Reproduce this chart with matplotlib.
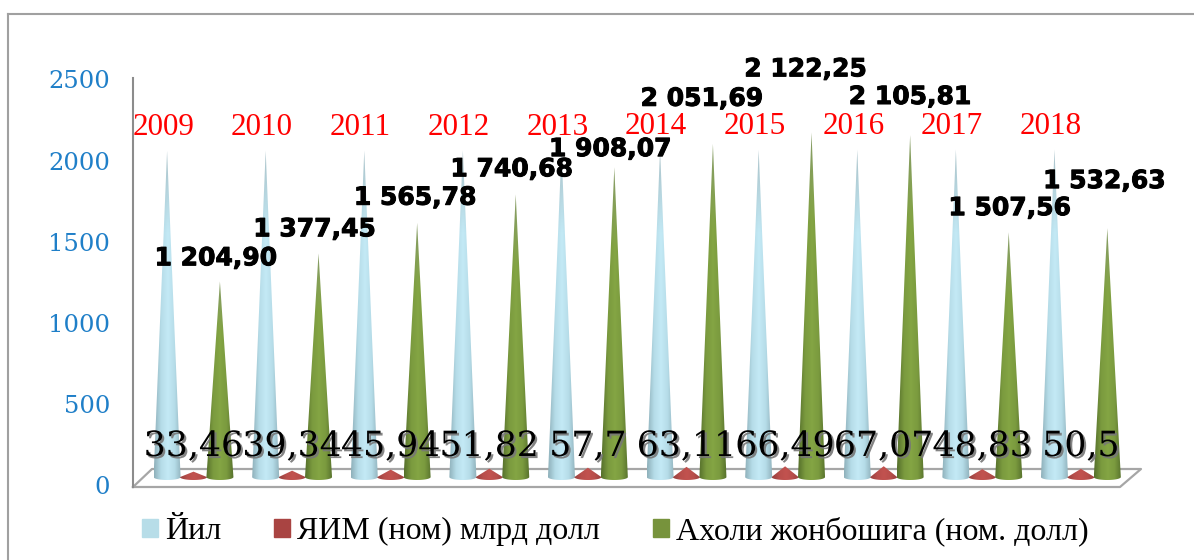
import numpy as np
import matplotlib
matplotlib.use("Agg")
import matplotlib.pyplot as plt
import matplotlib.patheffects as pe
from matplotlib.colors import LinearSegmentedColormap
from matplotlib.lines import Line2D
from matplotlib.patches import Patch, PathPatch
from matplotlib.path import Path

years = [2009, 2010, 2011, 2012, 2013, 2014, 2015, 2016, 2017, 2018]
gdp = [33.46, 39.34, 45.94, 51.82, 57.7, 63.11, 66.49, 67.07, 48.83, 50.5]
per_capita = [1204.90, 1377.45, 1565.78, 1740.68, 1908.07,
              2051.69, 2122.25, 2105.81, 1507.56, 1532.63]
gdp_labels = ["33,46", "39,34", "45,94", "51,82", "57,7",
              "63,11", "66,49", "67,07", "48,83", "50,5"]
per_capita_labels = ["1 204,90", "1 377,45", "1 565,78", "1 740,68", "1 908,07",
                     "2 051,69", "2 122,25", "2 105,81", "1 507,56", "1 532,63"]
series_names = ["Йил", "ЯИМ (ном) млрд долл", "Ахоли жонбошига (ном. долл)"]
y_ticks = [0, 500, 1000, 1500, 2000, 2500]

# label shifts in pixels, the chart has them moved by hand
per_capita_shift = [(-4, 26), (-4, 27), (-2, 28), (-4, 28), (-4, 21),
                    (-11, 48), (-6, 66), (0, 41), (1, 27), (-3, 50)]

W, H = 1194, 560
PX_PER_UNIT = 0.1624
PX_PER_CAT = 98.6
CENTER0 = 193.5
BASE_PX = 480
OFFSET = 0.268
HALF_W = 0.137
ELL = 18


def px_x(px):
    return (px - CENTER0) / PX_PER_CAT


def px_y(px):
    return (BASE_PX - px) / PX_PER_UNIT


def cone_path(x, height):
    # side lines go to the apex, the base is half an ellipse
    t = np.linspace(np.pi, 2 * np.pi, 30)
    xs = x + HALF_W * np.cos(t)
    ys = ELL + ELL * np.sin(t)
    verts = list(zip(xs, ys)) + [(x, ELL + height), (xs[0], ys[0])]
    codes = [Path.MOVETO] + [Path.LINETO] * (len(verts) - 2) + [Path.CLOSEPOLY]
    return Path(verts, codes)


def draw_cone(ax, x, height, cmap):
    grad = np.tile(np.linspace(0, 1, 64), (100, 1))
    rgb = cmap(grad)[:, :, :3]
    if height > 500:
        # tall cones go greyish towards the tip
        fade = np.clip(1 - np.arange(100) / 25, 0, 1)[:, None, None] * 0.45
        rgb = rgb * (1 - fade) + np.array([0.55, 0.58, 0.58]) * fade
    im = ax.imshow(rgb, aspect="auto", zorder=3,
                   extent=(x - HALF_W, x + HALF_W, 0, ELL + height))
    patch = PathPatch(cone_path(x, height), transform=ax.transData,
                      facecolor="none", edgecolor="none")
    ax.add_patch(patch)
    im.set_clip_path(patch)


fig = plt.figure(figsize=(W / 100, H / 100), dpi=100)
ax = fig.add_axes([133 / W, (H - 487) / H, (1141 - 133) / W, (487 - 78) / H])

cmap_blue = LinearSegmentedColormap.from_list(
    "b", ["#8FB0BA", "#B5DCE8", "#C4EAF6", "#B5DCE8", "#8FB0BA"])
cmap_red = LinearSegmentedColormap.from_list(
    "r", ["#96403E", "#B84E4B", "#C2524F", "#B84E4B", "#96403E"])
cmap_green = LinearSegmentedColormap.from_list(
    "g", ["#56702C", "#7A9A3E", "#84A544", "#7A9A3E", "#56702C"])

pos = np.arange(len(years))
for i in pos:
    draw_cone(ax, i - OFFSET, years[i], cmap_blue)
    draw_cone(ax, i, gdp[i], cmap_red)
    draw_cone(ax, i + OFFSET, per_capita[i], cmap_green)

ax.set_xticks([])
ax.set_yticks(y_ticks)
# set_yticks widens the limits, so the limits come after it
ax.set_xlim(px_x(133), px_x(1141))
ax.set_ylim(px_y(487), px_y(78))

# floor of the 3d box
floor_x = [px_x(133), px_x(1120), px_x(1141), px_x(152), px_x(133)]
floor_y = [px_y(487), px_y(487), px_y(469), px_y(469), px_y(487)]
ax.plot(floor_x, floor_y, color="#A6A6A6", lw=1.6, zorder=2, clip_on=False)

for side in ["top", "right", "bottom"]:
    ax.spines[side].set_visible(False)
ax.spines["left"].set_color("#8C8C8C")
ax.spines["left"].set_linewidth(1.5)
ax.tick_params(axis="y", length=0)
ax.patch.set_alpha(0)

# 2500 sits above the axis top, so these are placed as plain texts on the tick scale
ax.set_yticklabels([])
for v in y_ticks:
    ax.annotate(str(v), (0, v), xycoords=ax.get_yaxis_transform(), xytext=(-23, -8),
                textcoords="offset pixels", ha="right", va="center",
                family="DejaVu Serif", fontsize=17.5, color="#1F7FC8")

for i in pos:
    ax.annotate(str(years[i]), (i - OFFSET, years[i]), xytext=(-4, 26),
                textcoords="offset pixels", ha="center", va="center",
                family="Liberation Serif", fontsize=22.4, color="#FF0000", zorder=5)
    ax.annotate(gdp_labels[i], (i, gdp[i]), xytext=(0, 34 - gdp[i] * PX_PER_UNIT),
                textcoords="offset pixels", ha="center", va="center",
                family="DejaVu Serif", fontsize=25, color="black", zorder=6,
                path_effects=[pe.SimplePatchShadow(offset=(1.5, -1.5), shadow_rgbFace="#777777", alpha=0.9),
                              pe.Normal()])
    dx, dy = per_capita_shift[i]
    ax.annotate(per_capita_labels[i], (i + OFFSET, per_capita[i]), xytext=(dx, dy),
                textcoords="offset pixels", ha="center", va="center",
                family="DejaVu Sans", weight="bold", fontsize=18, color="black", zorder=7,
                path_effects=[pe.withStroke(linewidth=0.7, foreground="black")])

handles = [Patch(color="#B7DDE8"), Patch(color="#A94442"), Patch(color="#77933C")]
fig.legend(handles, series_names, ncol=3, loc="lower left",
           bbox_to_anchor=(142 / W, (H - 546) / H), frameon=False,
           prop={"family": "Liberation Serif", "size": 23},
           handlelength=0.5, handleheight=0.5, handletextpad=0.22, columnspacing=1.66,
           borderpad=0, borderaxespad=0)

# outer frame of the chart object
frame = "#A0A0A0"
fig.add_artist(Line2D([7.5 / W, 7.5 / W], [0, (H - 14) / H], color=frame, lw=1.5))
fig.add_artist(Line2D([7.5 / W, 1], [(H - 14) / H, (H - 14) / H], color=frame, lw=1.5))

fig.savefig("out.png", dpi=100)
